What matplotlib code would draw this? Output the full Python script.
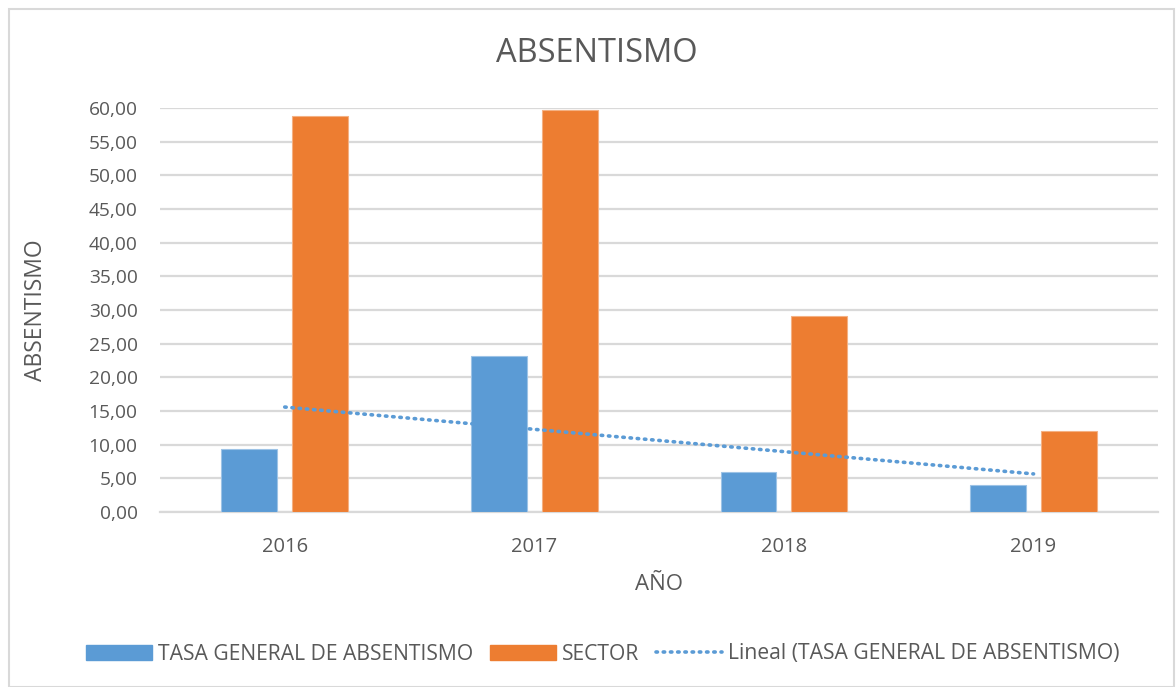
import numpy as np
import matplotlib
matplotlib.use("Agg")
import matplotlib.pyplot as plt
from matplotlib.patches import Patch, Rectangle
from matplotlib.lines import Line2D

years = ["2016", "2017", "2018", "2019"]
tasa_general = [9.3, 23.2, 6.0, 4.0]
sector = [58.8, 59.7, 29.1, 12.1]
y_ticks = [0, 5, 10, 15, 20, 25, 30, 35, 40, 45, 50, 55, 60]

blue = "#5B9BD5"
orange = "#ED7D31"
text_c = "#595959"
grid_c = "#D9D9D9"

plt.rcParams["font.family"] = ["Open Sans", "DejaVu Sans"]

fig = plt.figure(figsize=(11.76, 6.87), dpi=100)
ax = fig.add_axes([0.136, 0.2547, 0.849, 0.5881])

x = np.arange(len(years))
w = 0.224
off = 0.142
ax.bar(x - off, tasa_general, w, color=blue, edgecolor="#9DC3E6", linewidth=0.8, zorder=3)
ax.bar(x + off, sector, w, color=orange, edgecolor="#F4B183", linewidth=0.8, zorder=3)

# linear trend of TASA GENERAL (Excel "Lineal")
slope, intercept = np.polyfit(x + 1, tasa_general, 1)
trend = slope * (x + 1) + intercept
ax.plot(x, trend, color=blue, linewidth=2.6, linestyle=(0, (0.4, 1.6)),
        dash_capstyle="round", zorder=4)

ax.set_xlim(-0.5, len(years) - 0.5)
ax.set_ylim(0, 60)
ax.set_yticks(y_ticks)
ax.set_yticklabels([f"{v:.2f}".replace(".", ",") for v in y_ticks])
ax.set_xticks(x)
ax.set_xticklabels(years)
ax.tick_params(axis="y", length=0, labelsize=13.8, colors=text_c, pad=16)
ax.tick_params(axis="x", length=0, labelsize=14.5, colors=text_c, pad=18)
ax.grid(axis="y", color=grid_c, linewidth=1.6, zorder=0)
for s in ["top", "right", "left"]:
    ax.spines[s].set_visible(False)
ax.spines["bottom"].set_color(grid_c)
ax.spines["bottom"].set_linewidth(1.6)

ax.set_xlabel("AÑO", fontsize=16, color=text_c, labelpad=12)
ax.set_ylabel("ABSENTISMO", fontsize=16.5, color=text_c, labelpad=29)
fig.text(597 / 1176, 1 - 53 / 687, "ABSENTISMO", ha="center", va="center",
         fontsize=23.5, color=text_c)

handles = [
    Patch(facecolor=blue, edgecolor=blue),
    Patch(facecolor=orange, edgecolor=orange),
    Line2D([0], [0], color=blue, linewidth=2.6, linestyle=(0, (0.4, 1.6)),
           dash_capstyle="round"),
]
labels = ["TASA GENERAL DE ABSENTISMO", "SECTOR",
          "Lineal (TASA GENERAL DE ABSENTISMO)"]
fig.legend(handles, labels, loc="center", bbox_to_anchor=(603 / 1176, 1 - 654 / 687),
           ncol=3, frameon=False, fontsize=15.2, labelcolor=text_c,
           handlelength=3.1, handleheight=0.7, handletextpad=0.3, columnspacing=0.8)

fig.patches.append(Rectangle((9 / 1176, 0), 1 - 9 / 1176 - 0.002, 1 - 9 / 687,
                             transform=fig.transFigure, fill=False,
                             edgecolor="#D9D9D9", linewidth=1.5))

fig.savefig("out.png", dpi=100)
